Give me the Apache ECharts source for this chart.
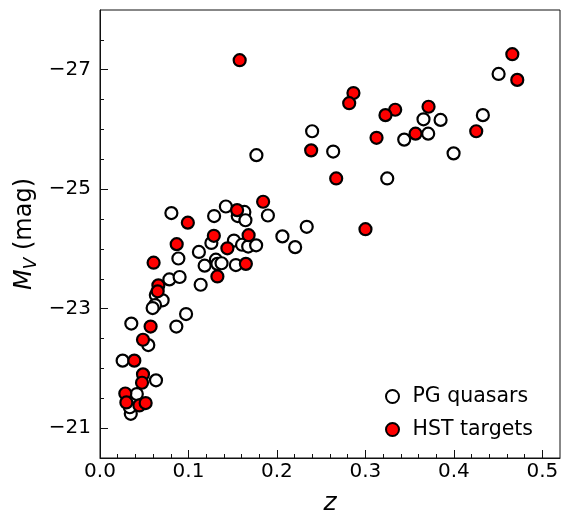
<!DOCTYPE html>
<html>
<head>
<meta charset="utf-8">
<script src="https://cdn.jsdelivr.net/npm/echarts@6/dist/echarts.min.js"></script>
<style>
html,body{margin:0;padding:0;background:#fff;}
#chart{width:567px;height:513px;}
</style>
</head>
<body>
<div id="chart"></div>
<script>
// PG quasars (open circles)
const pgZ  = [0.4506,0.2398,0.2636,0.3657,0.3850,0.3710,0.3439,0.4328,0.3997,0.3247,
              0.1768,0.2337,0.2062,0.2206,0.0807,0.1423,0.1290,0.1557,0.1632,0.1644,
              0.1898,0.1514,0.1606,0.1675,0.1765,0.1259,0.1118,0.0886,0.1183,0.1310,
              0.1327,0.1374,0.1536,0.0784,0.0900,0.1138,0.0631,0.0708,0.0622,0.0595,
              0.0973,0.0354,0.0863,0.0546,0.0256,0.0633,0.0416,0.0348,0.0337];
const pgMV = [-26.93,-25.97,-25.63,-26.17,-26.16,-25.93,-25.83,-26.24,-25.60,-25.18,
              -25.57,-24.37,-24.21,-24.03,-24.60,-24.71,-24.55,-24.55,-24.62,-24.48,
              -24.56,-24.14,-24.07,-24.04,-24.06,-24.10,-23.95,-23.84,-23.72,-23.82,
              -23.75,-23.76,-23.73,-23.49,-23.53,-23.40,-23.23,-23.14,-23.06,-23.01,
              -22.91,-22.75,-22.70,-22.39,-22.13,-21.80,-21.57,-21.24,-21.35];
// HST targets (red filled circles)
const hstZ  = [0.4661,0.4717,0.2865,0.2817,0.3337,0.3227,0.3714,0.3567,0.3126,0.4253,
               0.2387,0.2670,0.1579,0.3001,0.1844,0.1550,0.0993,0.0867,0.1287,0.1680,
               0.1440,0.1649,0.0606,0.1327,0.0660,0.0652,0.0572,0.0486,0.0388,0.0486,
               0.0475,0.0286,0.0298,0.0445,0.0516];
const hstMV = [-27.26,-26.83,-26.61,-26.44,-26.33,-26.24,-26.38,-25.93,-25.86,-25.97,
               -25.65,-25.18,-27.16,-24.33,-24.79,-24.65,-24.44,-24.08,-24.22,-24.23,
               -24.01,-23.75,-23.77,-23.54,-23.39,-23.29,-22.70,-22.48,-22.13,-21.90,
               -21.76,-21.58,-21.43,-21.38,-21.42];

const xMajorTicks = [0.0,0.1,0.2,0.3,0.4,0.5];
const xMinorTicks = [0.02,0.04,0.06,0.08,0.12,0.14,0.16,0.18,0.22,0.24,0.26,0.28,
                     0.32,0.34,0.36,0.38,0.42,0.44,0.46,0.48];
const yMajorTicks = [-27,-25,-23,-21];
const yMinorTicks = [-27.5,-26.5,-26,-25.5,-24.5,-24,-23.5,-22.5,-22,-21.5,-20.5];

const seriesNames = ['PG quasars','HST targets'];

const FONT = 'DejaVu Sans';
const minusFmt = v => (v < 0 ? '\u2212' + Math.abs(v) : String(v));

const chart = echarts.init(document.getElementById('chart'), null, {renderer:'canvas'});
const pgData = pgZ.map((z,i)=>[z,pgMV[i]]);
const hstData = hstZ.map((z,i)=>[z,hstMV[i]]);

chart.setOption({
  animation:false,
  backgroundColor:'#fff',
  grid:{left:100,top:10,width:460,height:448,show:true,borderColor:'#111',borderWidth:1,
        backgroundColor:'transparent',containLabel:false,outerBoundsMode:'none'},
  legend:{
    orient:'vertical', left:385, top:386, itemWidth:26, itemHeight:13, itemGap:12, padding:0,
    textStyle:{fontFamily:FONT,fontSize:20.5,color:'#000',lineHeight:20,padding:[0,0,0,2]},
    data:[
      {name:seriesNames[0],icon:'circle',itemStyle:{color:'#fff',borderColor:'#000',borderWidth:2}},
      {name:seriesNames[1],icon:'circle',itemStyle:{color:'#ff0000',borderColor:'#000',borderWidth:2}}
    ]
  },
  xAxis:[{
    type:'value',min:0,max:0.52,position:'bottom',
    name:'z',nameLocation:'middle',nameGap:33,
    nameTextStyle:{fontFamily:FONT,fontSize:25,fontStyle:'italic',color:'#000'},
    axisLine:{show:true,onZero:false,lineStyle:{color:'#111',width:1}},
    axisTick:{show:true,inside:true,length:8,customValues:xMajorTicks,lineStyle:{color:'#111',width:1}},
    axisLabel:{show:true,customValues:xMajorTicks,margin:4,fontFamily:FONT,fontSize:20,color:'#000',
      formatter:v=>v.toFixed(1)},
    splitLine:{show:false}
  },{
    type:'value',min:0,max:0.52,position:'bottom',
    axisLine:{show:false},
    axisTick:{show:true,inside:true,length:4,customValues:xMinorTicks,lineStyle:{color:'#111',width:1}},
    axisLabel:{show:false},
    splitLine:{show:false}
  }],
  yAxis:[{
    type:'value',min:-28,max:-20.5,inverse:true,position:'left',
    name:'{i|M}{s|V}{n| (mag)}',nameLocation:'middle',nameGap:60,nameRotate:90,nameMoveOverlap:false,
    nameTextStyle:{fontFamily:FONT,fontSize:24,color:'#000',
      rich:{
        i:{fontFamily:FONT,fontSize:24,fontStyle:'italic',lineHeight:30,verticalAlign:'middle'},
        s:{fontFamily:FONT,fontSize:17,fontStyle:'italic',lineHeight:17,verticalAlign:'bottom'},
        n:{fontFamily:FONT,fontSize:24,lineHeight:30,verticalAlign:'middle'}
      }},
    axisLine:{show:true,onZero:false,lineStyle:{color:'#111',width:1}},
    axisTick:{show:true,inside:true,length:8,customValues:yMajorTicks,lineStyle:{color:'#111',width:1}},
    axisLabel:{show:true,customValues:yMajorTicks,margin:9,fontFamily:FONT,fontSize:20,color:'#000',
      formatter:minusFmt},
    splitLine:{show:false}
  },{
    type:'value',min:-28,max:-20.5,inverse:true,position:'left',
    axisLine:{show:false},
    axisTick:{show:true,inside:true,length:4,customValues:yMinorTicks,lineStyle:{color:'#111',width:1}},
    axisLabel:{show:false},
    splitLine:{show:false}
  }],
  series:[{
    name:seriesNames[0],type:'scatter',xAxisIndex:0,yAxisIndex:0,
    symbol:'circle',symbolSize:12,
    itemStyle:{color:'#fff',borderColor:'#000',borderWidth:2.2,opacity:1},
    emphasis:{disabled:true},
    data:pgData
  },{
    name:seriesNames[1],type:'scatter',xAxisIndex:0,yAxisIndex:0,
    symbol:'circle',symbolSize:12,
    itemStyle:{color:'#ff0000',borderColor:'#000',borderWidth:2.2,opacity:1},
    emphasis:{disabled:true},
    data:hstData
  }]
});
</script>
</body>
</html>
